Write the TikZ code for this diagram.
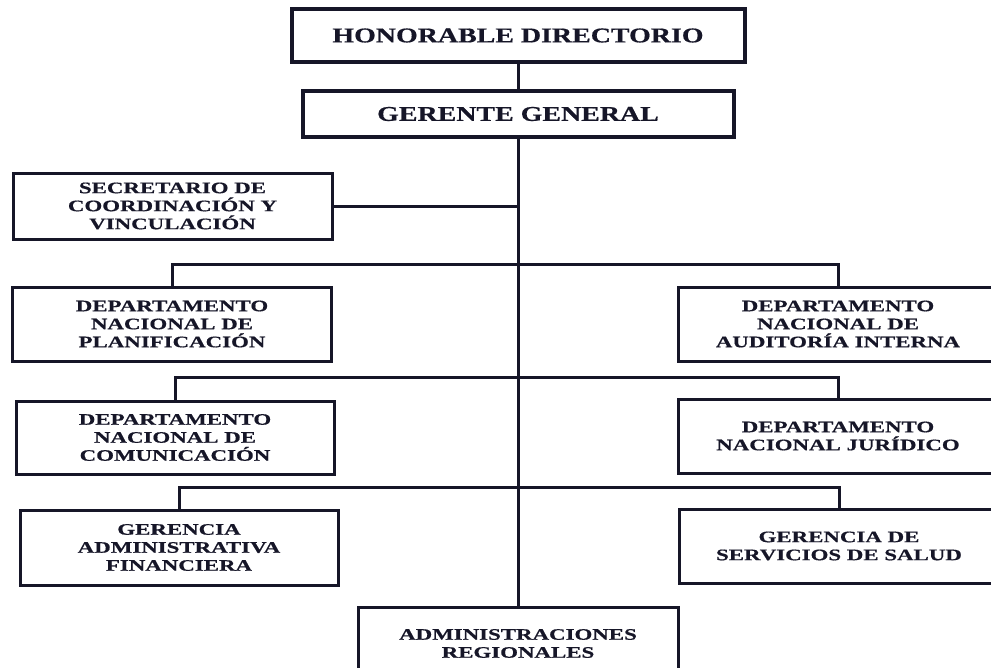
\documentclass[tikz,border=0pt]{standalone}
\usepackage{fontspec}
\newfontfamily\bigfont[FakeStretch=1.33,FakeBold=0.6]{Liberation Serif}
\newfontfamily\smallfont[FakeStretch=1.43,FakeBold=0.6]{Liberation Serif}
\definecolor{ink}{RGB}{22,22,40}
\begin{document}
\begin{tikzpicture}[x=1pt,y=-1pt,
  topbox/.style={draw=ink, line width=4pt, inner sep=0pt, align=center, text=ink,
    font=\bigfont\bfseries\fontsize{21}{24}\selectfont},
  unitbox/.style={draw=ink, line width=3pt, inner sep=0pt, align=center, text=ink,
    font=\smallfont\bfseries\fontsize{16}{18}\selectfont},
  conn/.style={draw=ink, line width=3pt}]
\useasboundingbox (0,0) rectangle (991,667);
\clip (0,0) rectangle (991,667);
\fill[white] (0,0) rectangle (991,667);

\node[topbox, minimum width=453pt, minimum height=53pt] (hon) at (518,35.5) {HONORABLE DIRECTORIO};
\node[topbox, minimum width=431pt, minimum height=46pt] (ger) at (518,114) {GERENTE GENERAL};

\node[unitbox, minimum width=319pt, minimum height=66pt] (sec) at (172.5,206) {SECRETARIO DE\\COORDINACIÓN Y\\VINCULACIÓN};

\node[unitbox, minimum width=319pt, minimum height=74pt] (plan) at (172,324) {DEPARTAMENTO\\NACIONAL DE\\PLANIFICACIÓN};
\node[unitbox, minimum width=320pt, minimum height=74pt] (aud) at (838,324) {DEPARTAMENTO\\NACIONAL DE\\AUDITORÍA INTERNA};

\node[unitbox, minimum width=318pt, minimum height=73pt] (com) at (175,437.5) {DEPARTAMENTO\\NACIONAL DE\\COMUNICACIÓN};
\node[unitbox, minimum width=320pt, minimum height=74pt] (jur) at (838,436) {DEPARTAMENTO\\NACIONAL JURÍDICO};

\node[unitbox, minimum width=318pt, minimum height=75pt] (fin) at (179,547.5) {GERENCIA\\ADMINISTRATIVA\\FINANCIERA};
\node[unitbox, minimum width=320pt, minimum height=74pt] (sal) at (839,546) {GERENCIA DE\\SERVICIOS DE SALUD};

\node[unitbox, minimum width=320pt, minimum height=73pt] (adm) at (518,643.5) {ADMINISTRACIONES\\REGIONALES};

\coordinate (b1) at (518,264);
\coordinate (b2) at (518,377);
\coordinate (b3) at (518,487);

\draw[conn] (hon.south) -- (ger.north);
\draw[conn] (ger.south) -- (adm.north);
\draw[conn] (sec.east) -- (sec.east -| ger.south);
\draw[conn] (plan.north) |- (b1) -| (aud.north);
\draw[conn] (com.north) |- (b2) -| (jur.north);
\draw[conn] (fin.north) |- (b3) -| (sal.north);
\end{tikzpicture}
\end{document}
